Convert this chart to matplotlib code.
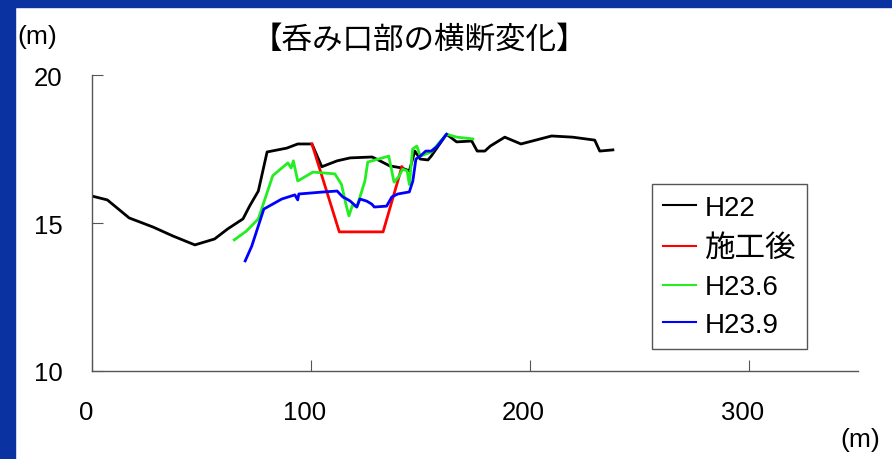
import matplotlib
matplotlib.use("Agg")
import matplotlib.pyplot as plt
import matplotlib.transforms as mtransforms
from matplotlib.patches import Rectangle

plt.rcParams['font.family'] = ['Liberation Sans', 'Noto Sans CJK JP', 'DejaVu Sans']

# ---------------- data ----------------
h22_x = [0, 7, 17, 22, 28, 37, 47, 56, 62, 69, 72, 76, 80, 89, 94, 100.5, 105, 112, 118,
         128, 130, 136, 141.5, 145, 147.5, 150, 153.5, 155, 162, 166.6, 173.5, 176, 179.5,
         182, 188.6, 196, 210, 219.6, 229.7, 232, 238]
h22_y = [15.91, 15.78, 15.17, 15.03, 14.86, 14.56, 14.26, 14.46, 14.8, 15.14, 15.57, 16.08,
         17.4, 17.53, 17.67, 17.67, 16.9, 17.1, 17.2, 17.23, 17.16, 16.93, 16.86, 16.76,
         17.43, 17.16, 17.13, 17.26, 18.0, 17.74, 17.77, 17.43, 17.43, 17.6, 17.9, 17.67,
         17.94, 17.9, 17.8, 17.43, 17.47]

after_x = [100.5, 113, 133, 141.6]
after_y = [17.67, 14.7, 14.7, 16.9]

h236_x = [65, 70.6, 76, 82.6, 89.5, 91, 92, 94, 101, 106, 111, 114, 116, 117.4, 119, 121,
          124.7, 126, 135.6, 138, 140, 142, 144, 145, 146.5, 148.4, 150, 155, 162, 166.7, 174]
h236_y = [14.43, 14.73, 15.14, 16.6, 17.03, 16.86, 17.1, 16.42, 16.72, 16.69, 16.66, 16.3,
          15.64, 15.24, 15.6, 15.54, 16.42, 17.06, 17.26, 16.38, 16.55, 16.82, 16.76, 16.3,
          17.5, 17.6, 17.26, 17.4, 18.0, 17.9, 17.84]

h239_x = [70, 73, 78.5, 86.7, 92.7, 94, 94.5, 106, 112, 114.6, 116.4, 118, 121, 122.4, 125.5,
          127.8, 129, 134.6, 137, 139.7, 145, 146.6, 148, 150, 152.5, 155, 157.5, 162]
h239_y = [13.72, 14.22, 15.47, 15.81, 15.95, 15.78, 15.98, 16.05, 16.08, 15.88, 15.81, 15.74,
          15.54, 15.81, 15.74, 15.64, 15.54, 15.57, 15.88, 15.98, 16.05, 16.42, 17.16, 17.26,
          17.43, 17.43, 17.57, 18.0]

labels = ['H22', '施工後', 'H23.6', 'H23.9']
x_ticks = [0, 100, 200, 300]
y_ticks = [10, 15, 20]
title = '【呑み口部の横断変化】'

# ---------------- figure ----------------
W, H = 892, 460
fig = plt.figure(figsize=(W / 100, H / 100), dpi=100)
fig.patch.set_facecolor('white')

# blue frame (left and top)
border = '#0a32a0'
fig.add_artist(Rectangle((0, 0), 15 / W, 1, transform=fig.transFigure, color=border, zorder=0))
fig.add_artist(Rectangle((0, 1 - 8 / H), 1, 8 / H, transform=fig.transFigure, color=border, zorder=0))

ax = fig.add_axes([92 / W, 1 - 372 / H, (858 - 92) / W, (372 - 76) / H])
ax.set_facecolor('white')

lw = 2.0
ax.plot(h22_x, h22_y, color='black', lw=lw, label=labels[0])
ax.plot(after_x, after_y, color='#ff0000', lw=lw, label=labels[1])
ax.plot(h236_x, h236_y, color='#22ee22', lw=lw, label=labels[2])
ax.plot(h239_x, h239_y, color='#0000ff', lw=lw, label=labels[3])

ax.set_xlim(0, 350)
ax.set_ylim(10, 20)
ax.set_xticks(x_ticks)
ax.set_yticks(y_ticks)

for s in ['top', 'right']:
    ax.spines[s].set_visible(False)
for s in ['left', 'bottom']:
    ax.spines[s].set_color('#555555')
    ax.spines[s].set_linewidth(1.0)

ax.tick_params(axis='both', direction='in', length=8, width=0.8, color='#555555',
               labelsize=18.5, labelcolor='black')
ax.tick_params(axis='y', pad=21)
ax.tick_params(axis='x', pad=21)

# x labels sit slightly left of their ticks
offset = mtransforms.ScaledTranslation(-6 / 100, 0, fig.dpi_scale_trans)
for lab in ax.get_xticklabels():
    lab.set_transform(lab.get_transform() + offset)

# units
fig.text(17 / W, 1 - 37 / H, '(m)', fontsize=19, ha='left', va='center')
fig.text(880 / W, 1 - 440 / H, '(m)', fontsize=19, ha='right', va='center')

# title
fig.text(419 / W, 1 - 40 / H, title, fontsize=22, ha='center', va='center',
         family=['Noto Sans CJK JP', 'DejaVu Sans'])

leg = ax.legend(loc='upper left', bbox_to_anchor=(652 / W, 1 - 185 / H),
                bbox_transform=fig.transFigure, fontsize=20, frameon=True,
                fancybox=False, framealpha=1, edgecolor='#555555',
                handlelength=1.2, handletextpad=0.3, labelspacing=0.42,
                borderpad=0.4, borderaxespad=0)
leg.get_frame().set_linewidth(1.0)
for line in leg.get_lines():
    line.set_linewidth(1.5)
leg.get_texts()[1].set_fontsize(22)

fig.savefig('out.png', dpi=100, facecolor=fig.get_facecolor())
